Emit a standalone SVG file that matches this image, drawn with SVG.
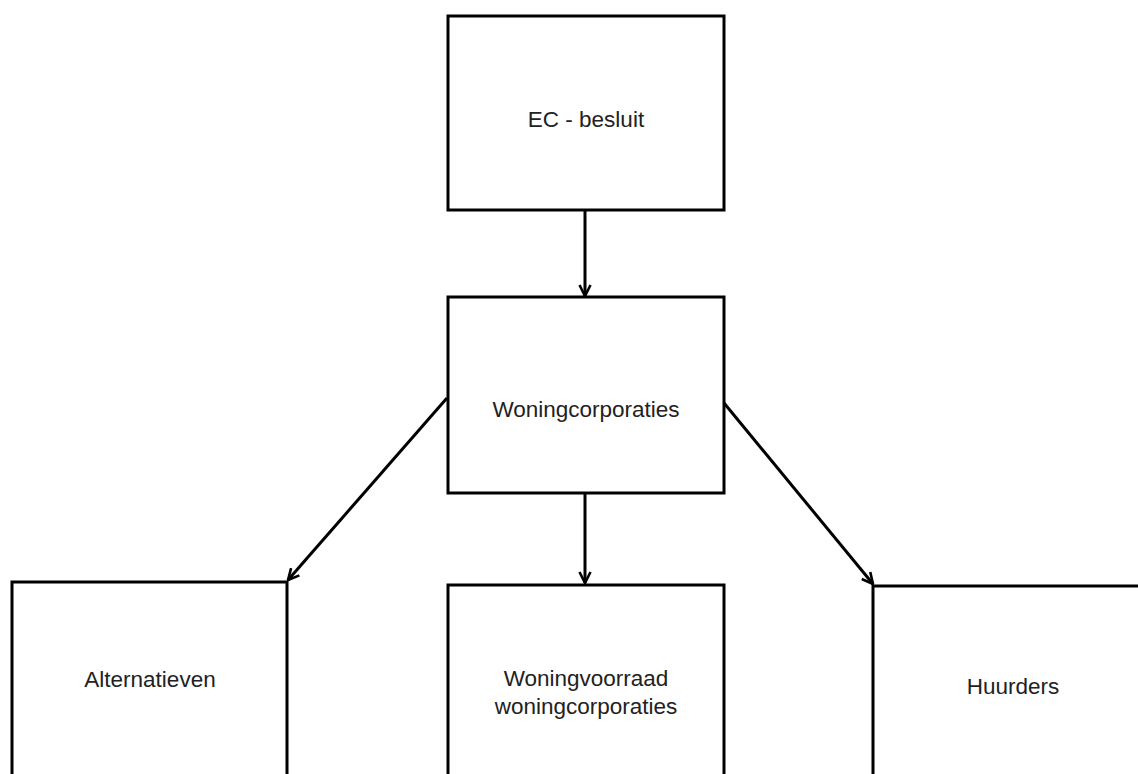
<svg xmlns="http://www.w3.org/2000/svg" width="1138" height="774" viewBox="0 0 1138 774">
<style>
.box{fill:#fff;stroke:#000;stroke-width:3}
.lbl{font-family:"Liberation Sans",Arial,sans-serif;font-size:22.5px;fill:#222;text-anchor:middle}
.con{stroke:#000;stroke-width:3;fill:none}
</style>
<defs>
<marker id="arr" viewBox="0 0 14 14" refX="13" refY="7" markerWidth="14" markerHeight="14" markerUnits="userSpaceOnUse" orient="auto">
<path d="M2,1.5 L13,7 L2,12.5" fill="none" stroke="#000" stroke-width="2.6"/>
</marker>
</defs>
<rect width="1138" height="774" fill="#fff"/>
<g id="n-ec"><rect class="box" x="448" y="16" width="276" height="194"/><text class="lbl" x="586" y="127">EC - besluit</text></g>
<g id="n-woningcorporaties"><rect class="box" x="448" y="297" width="276" height="196"/><text class="lbl" x="586" y="417">Woningcorporaties</text></g>
<g id="n-alternatieven"><rect class="box" x="12" y="582" width="275" height="200"/><text class="lbl" x="150" y="687">Alternatieven</text></g>
<g id="n-woningvoorraad"><rect class="box" x="448" y="585" width="276" height="200"/><text class="lbl" x="586" y="686">Woningvoorraad</text><text class="lbl" x="586" y="714">woningcorporaties</text></g>
<g id="n-huurders"><rect class="box" x="873" y="586" width="280" height="200"/><text class="lbl" x="1013" y="694">Huurders</text></g>
<g id="connectors">
<line class="con" x1="585" y1="210" x2="585" y2="296" marker-end="url(#arr)"/>
<line class="con" x1="585" y1="493" x2="585" y2="583" marker-end="url(#arr)"/>
<line class="con" x1="447" y1="398" x2="288" y2="580" marker-end="url(#arr)"/>
<line class="con" x1="724" y1="403" x2="873" y2="584" marker-end="url(#arr)"/>
</g>
</svg>
